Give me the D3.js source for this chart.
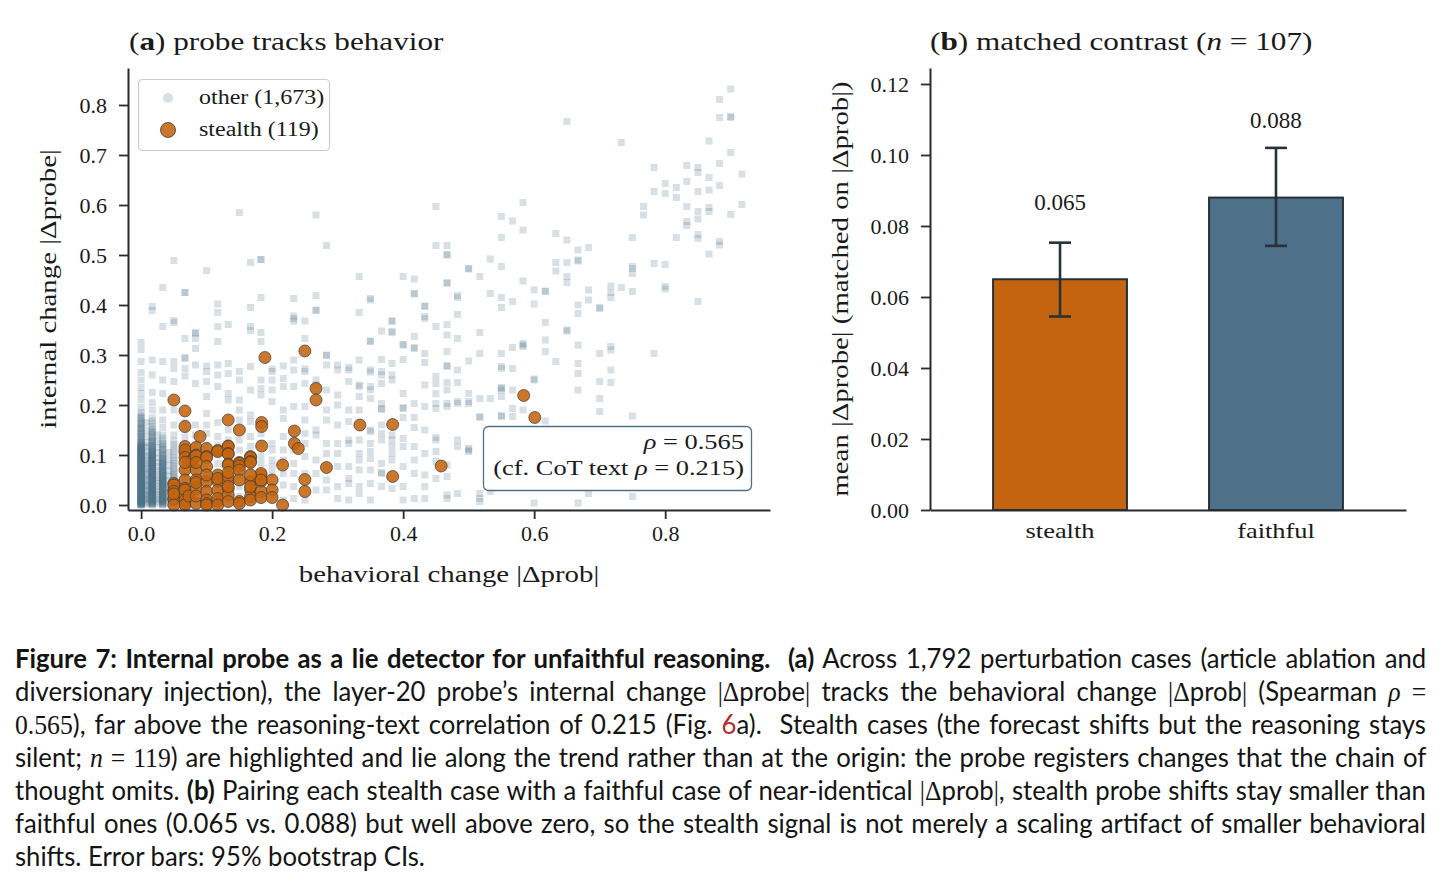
<!DOCTYPE html>
<html>
<head>
<meta charset="utf-8">
<script src="https://cdn.jsdelivr.net/npm/d3@7"></script>
<style>
  html, body { margin: 0; padding: 0; background: #fff; }
  #wrap { position: relative; width: 1442px; height: 884px; overflow: hidden; }
  svg { position: absolute; left: 0; top: 0; }
  #caption { position: absolute; left: 15px; top: 641px; width: 1411px; font-family: Lato, "Noto Sans", sans-serif; font-size: 27px; line-height: 33px; color: #141414; }
  #caption .ln { white-space: nowrap; transform-origin: 0 0; height: 33px; }
  #caption .m { font-family: "Liberation Serif", serif; }
  #caption .mi { font-family: "Liberation Serif", serif; font-style: italic; }
  #caption b { font-weight: 700; }
</style>
</head>
<body>
<div id="wrap">
<svg id="chart" width="1442" height="884"></svg>
<div id="caption"></div>
</div>
<script>
// ---------------- DATA ----------------
// Panel (a): "other" cases, grouped by behavioral change |Δprob| (x) with their |Δprobe| values (y)
const otherCols = [
  [0.000, [.000,.001,.002,.003,.004,.005,.006,.007,.008,.009,.010,.011,.012,.013,.014,.015,.016,.017,.018,.019,.020,.021,.022,.023,.024,.025,.026,.027,.028,.029,.030,.031,.032,.033,.034,.035,.036,.037,.038,.039,.040,.041,.042,.043,.044,.045,.046,.047,.048,.049,.050,.051,.052,.053,.054,.055,.056,.057,.058,.059,.060,.061,.062,.063,.064,.065,.066,.067,.068,.069,.070,.071,.072,.073,.074,.075,.076,.077,.078,.079,.080,.081,.082,.083,.084,.085,.086,.087,.088,.089,.090,.091,.092,.093,.094,.095,.096,.097,.098,.099,.100,.101,.102,.103,.104,.105,.106,.107,.108,.109,.110,.111,.112,.113,.114,.115,.116,.117,.118,.119,.120,.122,.124,.126,.128,.131,.134,.137,.140,.143,.146,.149,.152,.155,.158,.161,.164,.168,.172,.176,.180,.185,.195,.210,.223,.235,.250,.265,.287,.311,.325,
           .000,.002,.004,.006,.009,.012,.015,.019,.024,.030,.036,.043,.051,.060,.070,.081,.093]],
  [0.000, [.001,.004,.007,.010,.013,.016,.020,.023,.027,.031,.034,.038,.041,.045,.049,.053,.057,.061,.065,.069,.073,.077,.082,.086,.090,.095,.099,.104,.108,.113,.118,.123,.129,.136,.144,.153,.163,.174]],
  [0.008, [.002,.006,.010,.014,.018,.022,.027,.032,.037,.042,.047,.052,.058,.064,.070,.076,.083,.090,.098,.106,.115,.125,.137,.150,.165]],
  [0.009, [.004,.012,.020,.029,.039,.050,.061,.073,.086,.100,.118]],
  [0.017, [.000,.001,.003,.004,.005,.007,.008,.009,.011,.012,.013,.015,.016,.017,.019,.020,.021,.023,.024,.025,.027,.028,.029,.031,.032,.033,.035,.036,.037,.039,.040,.041,.043,.044,.045,.047,.048,.049,.051,.052,.053,.055,.056,.057,.059,.060,.061,.063,.064,.065,.067,.068,.069,.071,.072,.073,.075,.076,.077,.079,.080,.081,.083,.084,.085,.087,.088,.089,.091,.092,.093,.095,.096,.097,.099,.100,.101,.103,.104,.105,.107,.108,.110,.112,.114,.116,.118,.120,.123,.126,.129,.132,.136,.140,.144,.148,.152,.157,.162,.168,.174,.190,.205,.225,.260,.290,.389,.397]],
  [0.017, [.002,.005,.009,.013,.017,.021,.025,.029,.033,.037,.041,.046,.050,.055,.059,.064,.069,.074,.079,.084,.089,.094,.100,.106,.112,.119,.127,.135,.146]],
  [0.025, [.003,.007,.011,.016,.021,.026,.031,.037,.043,.049,.055,.062,.069,.077,.085,.094,.104,.115,.127,.140]],
  [0.033, [.000,.002,.003,.005,.006,.008,.009,.011,.012,.014,.015,.017,.018,.020,.021,.023,.024,.026,.027,.029,.030,.032,.033,.035,.036,.038,.039,.041,.042,.044,.045,.047,.048,.050,.051,.053,.054,.056,.057,.059,.060,.062,.063,.065,.066,.068,.070,.072,.074,.076,.078,.080,.082,.084,.086,.088,.090,.093,.096,.099,.102,.106,.110,.114,.118,.123,.128,.134,.140,.155,.170,.190,.223,.250,.287,.357,.435]],
  [0.033, [.001,.005,.009,.013,.018,.022,.027,.032,.037,.042,.047,.053,.059,.065,.071,.078,.085,.093,.101,.111,.121]],
  [0.042, [.004,.010,.017,.024,.032,.040,.049,.058,.068,.079,.091,.105]],
  [0.050, [.001,.004,.007,.010,.013,.016,.019,.022,.025,.028,.031,.034,.037,.040,.044,.048,.052,.056,.060,.064,.068,.073,.078,.083,.088,.094,.100,.107,.114,.121,.128,.140,.160,.190,.247,.273,.287,.365,.369,.489]],
  [0.067, [0.005,0.012,0.020,0.030,0.040,0.050,0.060,0.075,0.090,0.105,0.120,0.135,0.150,0.165,0.258,0.273,0.293,0.295,0.333,0.425,0.425]],
  [0.083, [0.004,0.015,0.025,0.040,0.055,0.070,0.085,0.100,0.120,0.140,0.160,0.243,0.280,0.313,0.333,0.343,0.345]],
  [0.100, [0.006,0.020,0.035,0.050,0.065,0.080,0.100,0.120,0.143,0.160,0.183,0.217,0.247,0.267,0.278,0.469]],
  [0.117, [0.005,0.018,0.030,0.045,0.063,0.083,0.100,0.120,0.137,0.165,0.237,0.260,0.280,0.327,0.357,0.385,0.402]],
  [0.133, [0.008,0.025,0.040,0.057,0.070,0.090,0.113,0.130,0.150,0.210,0.223,0.263,0.283,0.361]],
  [0.150, [0.010,0.017,0.037,0.050,0.063,0.090,0.110,0.130,0.170,0.190,0.210,0.250,0.267,0.585]],
  [0.167, [0.010,0.030,0.050,0.063,0.077,0.097,0.117,0.137,0.167,0.180,0.230,0.277,0.349,0.357,0.395,0.485]],
  [0.183, [0.010,0.023,0.040,0.063,0.083,0.097,0.123,0.143,0.220,0.233,0.250,0.327,0.345,0.415,0.491,0.491]],
  [0.200, [0.017,0.037,0.063,0.077,0.090,0.110,0.123,0.207,0.230,0.250,0.267,0.272]],
  [0.217, [0.010,0.040,0.063,0.090,0.110,0.137,0.173,0.190,0.237,0.253,0.278]],
  [0.233, [0.013,0.037,0.063,0.083,0.110,0.130,0.150,0.197,0.237,0.270,0.290,0.368,0.373,0.378,0.413]],
  [0.250, [0.010,0.063,0.097,0.123,0.143,0.170,0.197,0.243,0.267,0.272,0.333,0.368]],
  [0.267, [0.030,0.063,0.090,0.140,0.150,0.240,0.250,0.389,0.390,0.419,0.580]],
  [0.283, [0.030,0.050,0.077,0.103,0.123,0.170,0.190,0.230,0.280,0.299,0.300,0.519]],
  [0.300, [0.013,0.037,0.077,0.103,0.123,0.160,0.200,0.220,0.270,0.280]],
  [0.317, [0.010,0.043,0.053,0.077,0.123,0.130,0.167,0.190,0.247,0.270,0.275]],
  [0.333, [0.023,0.037,0.070,0.090,0.103,0.130,0.190,0.217,0.237,0.240,0.290,0.385,0.457]],
  [0.350, [0.010,0.043,0.070,0.093,0.107,0.123,0.147,0.150,0.213,0.230,0.237,0.266,0.270,0.327,0.328,0.410,0.413]],
  [0.367, [0.037,0.063,0.065,0.083,0.130,0.143,0.160,0.191,0.193,0.203,0.243,0.260,0.267,0.291,0.348]],
  [0.383, [0.033,0.090,0.103,0.117,0.130,0.140,0.250,0.260,0.283,0.345,0.347,0.367,0.369]],
  [0.400, [0.010,0.037,0.077,0.117,0.133,0.175,0.193,0.195,0.223,0.291,0.320,0.321,0.457]],
  [0.417, [0.013,0.063,0.090,0.117,0.155,0.175,0.203,0.313,0.315,0.337,0.422,0.423,0.452]],
  [0.433, [0.013,0.037,0.060,0.103,0.150,0.197,0.240,0.285,0.303,0.373,0.377,0.397,0.398]],
  [0.450, [0.053,0.087,0.107,0.130,0.135,0.193,0.203,0.223,0.243,0.257,0.357,0.519,0.597]],
  [0.467, [0.013,0.020,0.057,0.080,0.197,0.203,0.230,0.245,0.277,0.279,0.307,0.340,0.361,0.443,0.445,0.500,0.501,0.519]],
  [0.483, [0.023,0.117,0.130,0.203,0.207,0.245,0.270,0.333,0.381,0.415,0.419]],
  [0.500, [0.107,0.110,0.113,0.203,0.207,0.223,0.288,0.472,0.473]],
  [0.517, [0.007,0.013,0.023,0.175,0.177,0.213,0.303,0.345,0.457]],
  [0.533, [0.027,0.213,0.423,0.492]],
  [0.550, [0.177,0.179,0.217,0.230,0.233,0.235,0.273,0.277,0.303,0.395,0.415,0.477,0.535,0.577]],
  [0.567, [0.177,0.193,0.230,0.273,0.315,0.407,0.568]],
  [0.583, [0.190,0.317,0.320,0.323,0.448,0.550,0.605]],
  [0.600, [0.004,0.250,0.252,0.402,0.430]],
  [0.617, [0.168,0.307,0.330,0.365,0.427,0.428]],
  [0.633, [0.287,0.468,0.485,0.543]],
  [0.650, [0.348,0.350,0.445,0.457,0.485,0.530,0.767]],
  [0.667, [0.004,0.230,0.263,0.283,0.320,0.383,0.400,0.488,0.490,0.510]],
  [0.683, [0.023,0.410,0.430,0.515]],
  [0.700, [0.187,0.213,0.247,0.303,0.393,0.395]],
  [0.717, [0.245,0.270,0.310,0.317,0.415,0.425,0.438]],
  [0.733, [0.435,0.725]],
  [0.750, [0.017,0.178,0.427,0.463,0.473,0.477,0.535]],
  [0.767, [0.580,0.597]],
  [0.783, [0.303,0.483,0.627,0.675]],
  [0.800, [0.432,0.437,0.481,0.623,0.643]],
  [0.817, [0.535,0.615,0.635]],
  [0.833, [0.559,0.567,0.597,0.647,0.679]],
  [0.850, [0.407,0.533,0.541,0.572,0.587,0.627,0.665,0.675]],
  [0.867, [0.502,0.587,0.595,0.630,0.655,0.728]],
  [0.883, [0.520,0.527,0.639,0.683,0.775,0.811]],
  [0.900, [0.581,0.705,0.775,0.777,0.832]],
  [0.917, [0.601,0.662]]
];

// Panel (a): stealth cases [|Δprob|, |Δprobe|]
const stealthPoints = [
  [0.189,0.295],[0.250,0.308],[0.267,0.233],[0.267,0.210],[0.050,0.210],[0.067,0.188],[0.067,0.157],
  [0.133,0.170],[0.150,0.150],[0.184,0.165],[0.184,0.157],[0.234,0.148],[0.234,0.123],[0.240,0.113],
  [0.334,0.160],[0.384,0.161],[0.090,0.137],[0.184,0.118],[0.216,0.080],[0.283,0.075],[0.384,0.057],
  [0.458,0.078],[0.584,0.219],[0.601,0.175],[0.250,0.051],[0.250,0.027],[0.200,0.050],[0.200,0.030],
  [0.216,0.000],
  [0.050,0.043],[0.050,0.031],[0.050,0.011],[0.050,0.040],[0.050,0.027],[0.050,0.013],[0.050,0.022],
  [0.067,0.117],[0.067,0.105],[0.067,0.110],[0.067,0.095],[0.067,0.070],[0.067,0.050],[0.067,0.033],
  [0.067,0.017],[0.067,0.003],[0.067,0.030],[0.067,0.010],[0.067,0.000],
  [0.073,0.018],[0.077,0.089],[0.077,0.087],
  [0.084,0.115],[0.084,0.100],[0.084,0.098],[0.084,0.070],[0.084,0.050],[0.084,0.033],[0.084,0.003],
  [0.084,0.045],[0.084,0.018],
  [0.100,0.113],[0.100,0.097],[0.100,0.095],[0.100,0.077],[0.100,0.047],[0.100,0.027],[0.100,0.010],
  [0.100,0.003],[0.100,0.000],
  [0.117,0.109],[0.117,0.107],[0.117,0.060],[0.117,0.047],[0.117,0.029],[0.117,0.007],[0.117,0.053],
  [0.117,0.013],[0.117,0.000],
  [0.133,0.118],[0.133,0.117],[0.133,0.103],[0.133,0.102],[0.133,0.082],[0.133,0.080],[0.133,0.047],
  [0.133,0.033],[0.133,0.020],[0.133,0.007],[0.133,0.057],[0.133,0.037],
  [0.150,0.085],[0.150,0.083],[0.150,0.078],[0.150,0.070],[0.150,0.007],[0.150,0.003],
  [0.167,0.097],[0.167,0.095],[0.167,0.087],[0.167,0.085],[0.167,0.047],[0.167,0.031],[0.167,0.017],
  [0.167,0.010],[0.167,0.037],
  [0.183,0.060],[0.183,0.047],[0.183,0.027],[0.183,0.015],[0.183,0.063],[0.183,0.050],
  [0.150,0.050],[0.100,0.060],[0.067,0.085],[0.050,0.000],[0.167,0.060],[0.133,0.065],[0.200,0.015],
  [0.084,0.085]
];

const xTicksA = [0.0, 0.2, 0.4, 0.6, 0.8];
const yTicksA = [0.0, 0.1, 0.2, 0.3, 0.4, 0.5, 0.6, 0.7, 0.8];
const legendLabels = ["other (1,673)", "stealth (119)"];
const rhoProbe = 0.565, rhoCot = 0.215;

// Panel (b): matched contrast
const groups = ["stealth", "faithful"];
const groupMeans = [0.065, 0.088];
const groupLo = [0.0545, 0.0744];
const groupHi = [0.0753, 0.1020];
const yTicksB = [0.00, 0.02, 0.04, 0.06, 0.08, 0.10, 0.12];

// ---------------- STYLE ----------------
const C_OTHER = "#4e7089", C_STEALTH = "#c4640f", C_FAITH = "#4e7089", C_AX = "#262b2f";
const SERIF = "'Liberation Serif', 'DejaVu Serif', serif";
const WIDEN = 1.2;   // Computer-Modern-like letter width

const svg = d3.select("#chart");
const cmTexts = [];
function cm(sel) { cmTexts.push(sel); return sel; }

// ---------------- PANEL A ----------------
const xA = d3.scaleLinear().domain([-0.02, 0.96]).range([128, 770]);
const yA = d3.scaleLinear().domain([-0.01, 0.874]).range([510, 68]);

const otherPts = otherCols.flatMap(([x, ys]) => ys.map(y => ({x, y})));
const gA = svg.append("g");

gA.append("g").selectAll("rect").data(otherPts).join("rect")
  .attr("x", d => xA(d.x) - 3.5).attr("y", d => yA(d.y) - 3.5)
  .attr("width", 7).attr("height", 7)
  .attr("fill", C_OTHER).attr("fill-opacity", 0.22);

gA.append("g").selectAll("circle").data(stealthPoints).join("circle")
  .attr("cx", d => xA(d[0])).attr("cy", d => yA(d[1])).attr("r", 6)
  .attr("fill", C_STEALTH).attr("fill-opacity", 0.88)
  .attr("stroke", "#3a3a3a").attr("stroke-width", 0.8).attr("stroke-opacity", 0.9);

function styleAxis(g) {
  g.selectAll(".domain").attr("stroke", C_AX).attr("stroke-width", 2);
  g.selectAll(".tick line").attr("stroke", C_AX).attr("stroke-width", 1.8);
  g.selectAll(".tick text").attr("fill", "#1a1a1a").attr("font-family", SERIF).attr("font-size", 22);
}

gA.append("g").attr("transform", "translate(0,510)")
  .call(d3.axisBottom(xA).tickValues(xTicksA).tickFormat(d3.format(".1f")).tickSize(9).tickSizeOuter(0).tickPadding(6))
  .call(styleAxis);
gA.append("g").attr("transform", "translate(128,0)")
  .call(d3.axisLeft(yA).tickValues(yTicksA).tickFormat(d3.format(".1f")).tickSize(9).tickSizeOuter(0).tickPadding(12))
  .call(g => { styleAxis(g); g.selectAll(".tick text").attr("dy", "0.34em"); });

// titles & labels
const tA = cm(svg.append("text").attr("x", 129).attr("y", 50).attr("font-family", SERIF).attr("font-size", 26).attr("fill", "#1a1a1a"));
tA.append("tspan").text("(");
tA.append("tspan").attr("font-weight", "bold").text("a");
tA.append("tspan").text(") probe tracks behavior");

cm(svg.append("text").attr("x", 449).attr("y", 582).attr("text-anchor", "middle")
  .attr("font-family", SERIF).attr("font-size", 24).attr("fill", "#1a1a1a")
  .text("behavioral change |Δprob|"));
cm(svg.append("text").attr("transform", "translate(56,289) rotate(-90)").attr("text-anchor", "middle")
  .attr("font-family", SERIF).attr("font-size", 24).attr("fill", "#1a1a1a")
  .text("internal change |Δprobe|"));

// legend
const lg = svg.append("g");
lg.append("rect").attr("x", 138.5).attr("y", 79.5).attr("width", 191).attr("height", 71).attr("rx", 4)
  .attr("fill", "#fff").attr("fill-opacity", 0.85).attr("stroke", "#cccccc").attr("stroke-width", 1.2);
lg.append("circle").attr("cx", 168).attr("cy", 98).attr("r", 5).attr("fill", C_OTHER).attr("fill-opacity", 0.22);
lg.append("circle").attr("cx", 168).attr("cy", 130).attr("r", 7.5).attr("fill", C_STEALTH).attr("fill-opacity", 0.88)
  .attr("stroke", "#3a3a3a").attr("stroke-width", 0.8);
lg.selectAll("text.lgt").data(legendLabels).join("text").attr("class", "lgt")
  .attr("x", 199).attr("y", (d, i) => 104 + i * 32)
  .attr("font-family", SERIF).attr("font-size", 20).attr("fill", "#1a1a1a").text(d => d)
  .each(function () { cmTexts.push(d3.select(this)); });

// stats box
const sb = svg.append("g");
sb.append("rect").attr("x", 483.5).attr("y", 426.5).attr("width", 268).attr("height", 64).attr("rx", 5)
  .attr("fill", "#fff").attr("fill-opacity", 0.85).attr("stroke", "#4e7089").attr("stroke-width", 1.3);
const s1 = cm(sb.append("text").attr("x", 744).attr("y", 449).attr("text-anchor", "end")
  .attr("font-family", SERIF).attr("font-size", 22).attr("fill", "#1a1a1a"));
s1.append("tspan").attr("font-style", "italic").text("ρ");
s1.append("tspan").text(" = " + rhoProbe.toFixed(3));
const s2 = cm(sb.append("text").attr("x", 744).attr("y", 475).attr("text-anchor", "end")
  .attr("font-family", SERIF).attr("font-size", 22).attr("fill", "#1a1a1a"));
s2.append("tspan").text("(cf. CoT text ");
s2.append("tspan").attr("font-style", "italic").text("ρ");
s2.append("tspan").text(" = " + rhoCot.toFixed(3) + ")");

// ---------------- PANEL B ----------------
const xB = d3.scaleBand().domain(groups).range([930, 1406]).paddingInner(0.38).paddingOuter(0.292);
const yB = d3.scaleLinear().domain([0, 0.1245]).range([510, 68]);
const gB = svg.append("g");
const barData = groups.map((g, i) => ({g, m: groupMeans[i], lo: groupLo[i], hi: groupHi[i], c: i === 0 ? C_STEALTH : C_FAITH}));

gB.selectAll("rect.bar").data(barData).join("rect").attr("class", "bar")
  .attr("x", d => xB(d.g)).attr("y", d => yB(d.m))
  .attr("width", xB.bandwidth()).attr("height", d => yB(0) - yB(d.m))
  .attr("fill", d => d.c).attr("stroke", "#263238").attr("stroke-width", 2);

const eb = gB.selectAll("g.eb").data(barData).join("g").attr("class", "eb")
  .attr("stroke", "#263238").attr("stroke-width", 2.6);
eb.append("line").attr("x1", d => xB(d.g) + xB.bandwidth() / 2).attr("x2", d => xB(d.g) + xB.bandwidth() / 2)
  .attr("y1", d => yB(d.lo)).attr("y2", d => yB(d.hi));
eb.append("line").attr("x1", d => xB(d.g) + xB.bandwidth() / 2 - 11).attr("x2", d => xB(d.g) + xB.bandwidth() / 2 + 11)
  .attr("y1", d => yB(d.lo)).attr("y2", d => yB(d.lo));
eb.append("line").attr("x1", d => xB(d.g) + xB.bandwidth() / 2 - 11).attr("x2", d => xB(d.g) + xB.bandwidth() / 2 + 11)
  .attr("y1", d => yB(d.hi)).attr("y2", d => yB(d.hi));

gB.selectAll("text.val").data(barData).join("text").attr("class", "val")
  .attr("x", d => xB(d.g) + xB.bandwidth() / 2).attr("y", d => yB(d.m + 0.0195))
  .attr("text-anchor", "middle").attr("font-family", SERIF).attr("font-size", 23).attr("fill", "#1a1a1a")
  .text(d => d.m.toFixed(3));

gB.append("g").attr("transform", "translate(0,510)")
  .call(d3.axisBottom(xB).tickSize(0).tickSizeOuter(0).tickPadding(12))
  .call(g => { styleAxis(g); g.selectAll(".tick text").each(function () { cmTexts.push(d3.select(this)); }); });
gB.append("g").attr("transform", "translate(930,0)")
  .call(d3.axisLeft(yB).tickValues(yTicksB).tickFormat(d3.format(".2f")).tickSize(9).tickSizeOuter(0).tickPadding(12))
  .call(g => { styleAxis(g); g.selectAll(".tick text").attr("dy", "0.34em"); });

const tB = cm(svg.append("text").attr("x", 930).attr("y", 50).attr("font-family", SERIF).attr("font-size", 26).attr("fill", "#1a1a1a"));
tB.append("tspan").text("(");
tB.append("tspan").attr("font-weight", "bold").text("b");
tB.append("tspan").text(") matched contrast (");
tB.append("tspan").attr("font-style", "italic").text("n");
tB.append("tspan").text(" = 107)");

cm(svg.append("text").attr("transform", "translate(848,289) rotate(-90)").attr("text-anchor", "middle")
  .attr("font-family", SERIF).attr("font-size", 24).attr("fill", "#1a1a1a")
  .text("mean |Δprobe| (matched on |Δprob|)"));

// widen serif labels to Computer-Modern-like proportions
cmTexts.forEach(sel => {
  const n = sel.node();
  const L = n.getComputedTextLength();
  sel.attr("textLength", L * WIDEN).attr("lengthAdjust", "spacingAndGlyphs");
});

// ---------------- CAPTION ----------------
const captionLines = [
  '<b>Figure 7: Internal probe as a lie detector for unfaithful reasoning.</b>\u00a0 <b>(a)</b> Across 1,792 perturbation cases (article ablation and',
  'diversionary injection), the layer-20 probe’s internal change <span class="m">|Δ</span>probe<span class="m">|</span> tracks the behavioral change <span class="m">|Δ</span>prob<span class="m">|</span> (Spearman <span class="mi">ρ</span> <span class="m">=</span>',
  '<span class="m">0.565</span>), far above the reasoning-text correlation of 0.215 (Fig. <span style="color:#b0302c">6</span>a).\u00a0 Stealth cases (the forecast shifts but the reasoning stays',
  'silent; <span class="mi">n</span> <span class="m">=</span> <span class="m">119</span>) are highlighted and lie along the trend rather than at the origin: the probe registers changes that the chain of',
  'thought omits. <b>(b)</b> Pairing each stealth case with a faithful case of near-identical <span class="m">|Δ</span>prob<span class="m">|</span>, stealth probe shifts stay smaller than',
  'faithful ones (0.065 vs. 0.088) but well above zero, so the stealth signal is not merely a scaling artifact of smaller behavioral',
  'shifts. Error bars: 95% bootstrap CIs.'
];
const cap = d3.select("#caption");
const lineDivs = captionLines.map(h => {
  const div = cap.append("div").attr("class", "ln");
  const span = div.append("span").html(h);
  return {div, span};
});
const FULL = 1411, LAST = 410;
const lastW = lineDivs[lineDivs.length - 1].span.node().offsetWidth;
const sx = LAST / lastW;
lineDivs.forEach((o, i) => {
  o.div.style("transform", `scaleX(${sx})`);
  if (i < lineDivs.length - 1) {
    const w = o.span.node().offsetWidth;
    const nsp = (o.span.node().textContent.match(/[ \u00a0]/g) || []).length;
    const ws = (FULL / sx - w) / nsp;
    o.span.style("word-spacing", ws + "px");
  }
});
</script>
</body>
</html>
